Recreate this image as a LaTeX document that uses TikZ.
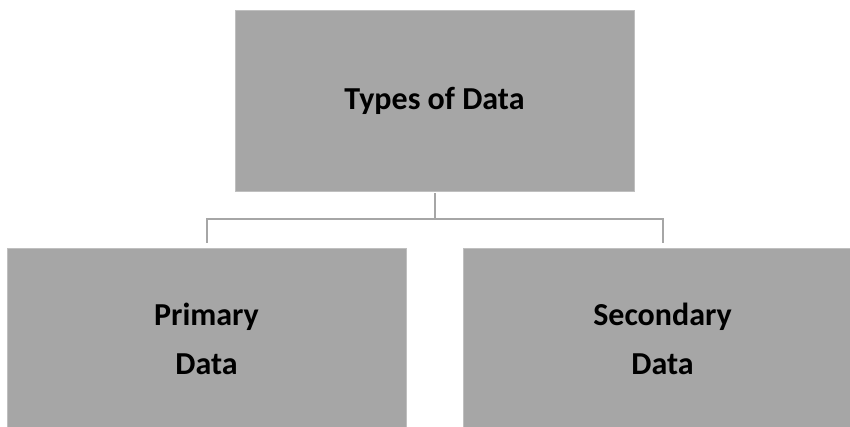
\documentclass[tikz,border=0pt]{standalone}
\usepackage{fontspec}
\setmainfont{Carlito}
\definecolor{boxgray}{HTML}{A6A6A6}
\definecolor{edgegray}{HTML}{BFBFBF}

\begin{document}
\begin{tikzpicture}[x=1pt,y=-1pt,
    databox/.style={rectangle, fill=boxgray, draw=edgegray, line width=0.8pt,
        minimum width=399pt, minimum height=181pt, inner sep=0pt, align=center,
        font=\fontsize{32}{49}\selectfont\bfseries},
    conn/.style={draw=boxgray, line width=2pt}]

\useasboundingbox (0,0) rectangle (850,426);

% Oberer Kasten
\node[databox] (types) at (434.5,100.5) {Types of Data};

% Untere Kasten
\node[databox] (primary) at (206.5,338.5) {Primary\\Data};
\node[databox] (secondary) at (662.5,338.5) {Secondary\\Data};

% Verbindungslinien
\coordinate (bus) at (434.5,219);
\draw[conn] ([yshift=-2pt]types.south) -- (bus);
\draw[conn] ([yshift=5pt]primary.north) |- (bus) -| ([yshift=5pt]secondary.north);

\end{tikzpicture}
\end{document}
